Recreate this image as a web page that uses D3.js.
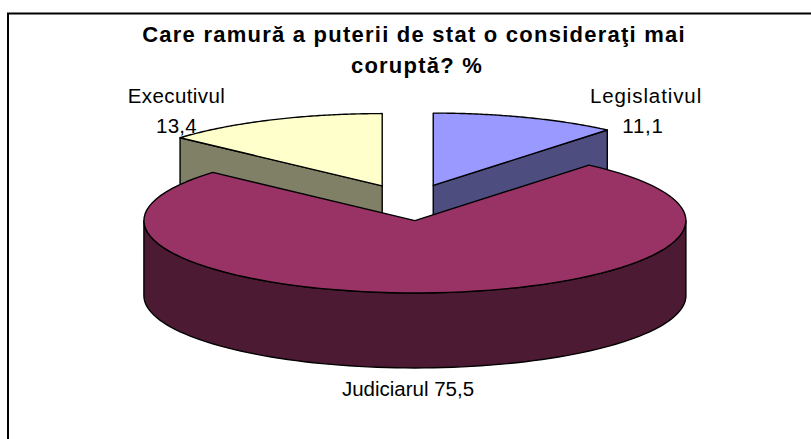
<!DOCTYPE html>
<html><head><meta charset="utf-8">
<script src="https://cdn.jsdelivr.net/npm/d3@7"></script>
<style>html,body{margin:0;padding:0;background:#fff}svg{display:block}text{font-family:"Liberation Sans",Arial,sans-serif;fill:#000}</style>
</head><body><svg id="c" width="811" height="439"></svg>
<script>
const categories = ["Legislativul", "Judiciarul", "Executivul"];
const values = [11.1, 75.5, 13.4];
const valueLabels = ["11,1", "75,5", "13,4"];
const topColors = ["#9999FF", "#993366", "#FFFFCC"];
const sideColors = ["#4D4D80", "#4D1A33", "#808066"];
const titleLines = ["Care ramură a puterii de stat o consideraţi mai", "coruptă? %"];

const svg = d3.select("#c");
svg.append("path").attr("d","M8,439V13.5H811").attr("fill","none").attr("stroke","#000").attr("stroke-width",2);

const cx=410, cy=202.5, rx=271, tilt=0.267, depth=75, explode=68;
const pie = d3.pie().sort(null).value(d=>d).startAngle(0).endAngle(2*Math.PI);
const arcs = pie(values).map((a,i)=>({...a,i}));

// project polar angle (clockwise from 12 o'clock) to the tilted plane
const px=(o,t)=>o.x+rx*Math.sin(t), py=(o,t,z=0)=>o.y-rx*tilt*Math.cos(t)+z;
const origin=a=>{const m=(a.startAngle+a.endAngle)/2;
  return {x:cx+explode*Math.sin(m), y:cy-explode*tilt*Math.cos(m)};};
const line=d3.line();
const sample=(a,b)=>d3.range(0,91).map(k=>a+(b-a)*k/90);

const topPath=a=>{const o=origin(a);
  return line([[o.x,o.y],...sample(a.startAngle,a.endAngle).map(t=>[px(o,t),py(o,t)])])+"Z";};
function sidePaths(a){const o=origin(a),out=[];
  const wall=t=>line([[o.x,o.y],[px(o,t),py(o,t)],[px(o,t),py(o,t,depth)],[o.x,o.y+depth]])+"Z";
  // cut walls that face the viewer
  if(a.endAngle<Math.PI) out.push(wall(a.endAngle));
  if(a.startAngle>Math.PI) out.push(wall(a.startAngle));
  // outer wall: only the front half of the rim is visible
  const s=Math.max(a.startAngle,Math.PI/2), e=Math.min(a.endAngle,Math.PI*1.5);
  if(e>s){const ts=sample(s,e);
    out.push(line([...ts.map(t=>[px(o,t),py(o,t)]),...ts.slice().reverse().map(t=>[px(o,t),py(o,t,depth)])])+"Z");}
  return out;}

// back slices first, the large slice last
const order=[0,2,1].map(i=>arcs[i]);
const g=svg.append("g").attr("stroke","#000").attr("stroke-width",1.4).attr("stroke-linejoin","round");
order.forEach(a=>{
  sidePaths(a).forEach(d=>g.append("path").attr("d",d).attr("fill",sideColors[a.i]));
  g.append("path").attr("d",topPath(a)).attr("fill",topColors[a.i]);
});

svg.selectAll("text.title").data(titleLines).join("text").attr("class","title")
  .attr("x",(d,i)=>i?417:414).attr("y",(d,i)=>41.5+i*31).attr("text-anchor","middle")
  .attr("font-size",22).attr("letter-spacing",1.24).attr("font-weight","bold").text(d=>d);

const lab=(x,y,t,ls)=>svg.append("text").attr("x",x).attr("y",y).attr("text-anchor","middle").attr("font-size",20.5).attr("letter-spacing",ls).text(t);
lab(646,103,categories[0],0.9); lab(643,133,valueLabels[0],0.8);
lab(176.5,103,categories[2],0.4); lab(176.5,133,valueLabels[2],0.3);
lab(408,396,categories[1]+" "+valueLabels[1],0);
</script></body></html>
